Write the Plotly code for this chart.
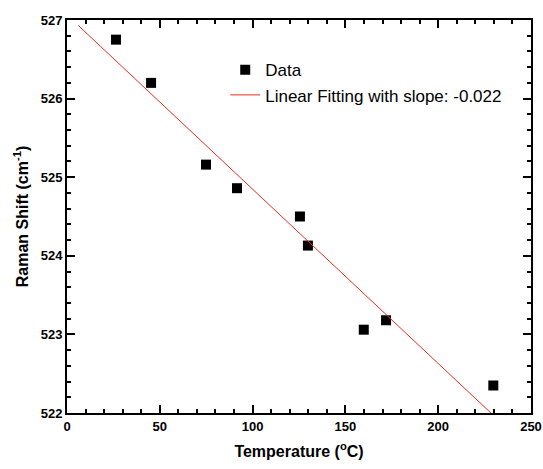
import plotly.graph_objects as go

# measured points
temperature = [26.4, 45.3, 74.9, 91.6, 125.5, 129.8, 159.9, 171.9, 229.7]
raman_shift = [526.75, 526.2, 525.16, 524.86, 524.5, 524.13, 523.06, 523.18, 522.35]

# fitted line end points
fit_x = [6.1, 228.4]
fit_y = [526.93, 522.0]

fig = go.Figure()
fig.add_trace(go.Scatter(
    x=temperature, y=raman_shift, mode='markers', name='Data',
    marker=dict(symbol='square', size=10, color='black'),
))
fig.add_trace(go.Scatter(
    x=fit_x, y=fit_y, mode='lines', name='Linear Fitting with slope: -0.022',
    line=dict(color='#ee2a1e', width=1),
))

axis_common = dict(
    showline=True, linecolor='black', linewidth=2, mirror='ticks',
    ticks='inside', ticklen=8, tickwidth=2, tickcolor='black',
    showgrid=False, zeroline=False, automargin=False,
    tickfont=dict(family='Liberation Sans', size=13, color='black', weight='bold'),
)

fig.update_layout(
    width=543, height=469,
    margin=dict(l=67, r=12, t=20, b=56),
    plot_bgcolor='white', paper_bgcolor='white',
    font=dict(family='Liberation Sans', color='black'),
    xaxis=dict(
        range=[0, 250], dtick=50,
        minor=dict(ticks='inside', dtick=10, ticklen=4, tickwidth=2, tickcolor='black'),
        title=dict(text='<b>Temperature (<sup>o</sup>C)</b>', font=dict(size=16), standoff=13),
        **axis_common,
    ),
    yaxis=dict(
        range=[522, 527], dtick=1,
        minor=dict(ticks='inside', dtick=0.2, ticklen=4, tickwidth=2, tickcolor='black'),
        title=dict(text='<b>Raman Shift (cm<sup>-1</sup>)</b>', font=dict(size=16), standoff=8),
        **axis_common,
    ),
    legend=dict(
        x=0.341, y=0.918, xanchor='left', yanchor='top',
        bgcolor='rgba(0,0,0,0)', font=dict(size=17), tracegroupgap=0,
    ),
)

# drop the default body margin so the figure fills the window exactly
fig.write_html("out.html", config={'displayModeBar': False},
               post_script="document.body.style.margin='0';document.body.style.overflow='hidden';")
